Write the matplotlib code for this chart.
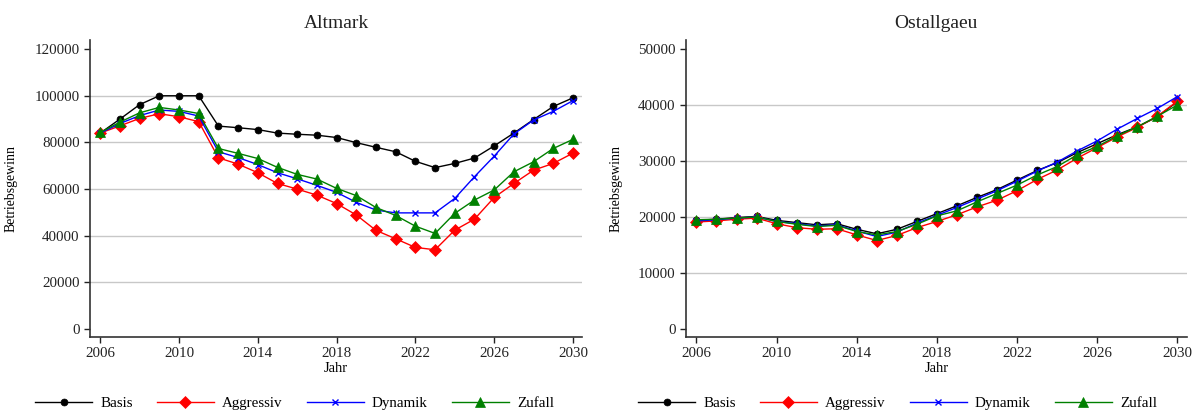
import numpy as np
import matplotlib.pyplot as plt

plt.rcParams['font.family'] = ['Liberation Serif', 'DejaVu Serif']

years = list(range(2006, 2031))

# Altmark
alt_basis = [84000, 90000, 96200, 100000, 100000, 100000, 87000, 86300, 85500, 84000, 83500,
             83100, 82100, 79900, 77900, 76000, 71900, 69200, 71000, 73300, 78500, 84000,
             89800, 95400, 99100]
alt_aggressiv = [84000, 87100, 90300, 92300, 91000, 88900, 73400, 70700, 67000, 62400, 60000,
                 57400, 53800, 48900, 42300, 38700, 35000, 34000, 42400, 47100, 56400, 62400,
                 68100, 71000, 75400]
alt_dynamik = [84000, 88100, 91500, 93900, 93300, 91300, 76000, 73500, 70500, 67000, 64400,
               61600, 58600, 54300, 51000, 49800, 49800, 49800, 56000, 65300, 74100, 83600,
               89600, 93300, 97900]
alt_zufall = [84300, 88700, 92700, 95000, 93900, 92400, 77400, 75300, 73100, 69300, 66300,
              64300, 60300, 57200, 52100, 48700, 44100, 41000, 49600, 55300, 59600, 67400,
              71700, 77400, 81300]

# Ostallgaeu
ost_basis = [19400, 19600, 19900, 20100, 19400, 19000, 18600, 18800, 17800, 17000, 17800,
             19200, 20600, 22000, 23500, 24900, 26600, 28300, 29700, 31500, 33100, 34700,
             36100, 37900, 40600]
ost_aggressiv = [19100, 19300, 19600, 19800, 18800, 18100, 17800, 17900, 16800, 15800, 16700,
                 18100, 19200, 20400, 21800, 23000, 24700, 26700, 28400, 30500, 32400, 34300,
                 36000, 38000, 40700]
ost_dynamik = [19300, 19500, 19800, 20000, 19200, 18800, 18400, 18600, 17500, 16500, 17300,
               18900, 20300, 21700, 23200, 24700, 26400, 28200, 29800, 31800, 33600, 35700,
               37600, 39400, 41500]
ost_zufall = [19500, 19600, 19800, 20000, 19200, 18700, 18300, 18500, 17400, 16800, 17400,
              18700, 20200, 21100, 22700, 24200, 25700, 27500, 29000, 31100, 32600, 34500,
              36100, 38000, 40000]

series_names = ["Basis", "Aggressiv", "Dynamik", "Zufall"]
colors = ["black", "#ff0000", "#0000ff", "#008000"]
markers = ["o", "D", "x", "^"]
msizes = [5, 6, 4, 7]

xticks = [2006, 2010, 2014, 2018, 2022, 2026, 2030]
alt_yticks = [0, 20000, 40000, 60000, 80000, 100000, 120000]
ost_yticks = [0, 10000, 20000, 30000, 40000, 50000]

fig = plt.figure(figsize=(11.95, 4.12), dpi=100)
ax1 = fig.add_axes([90 / 1195, 75 / 412, 492 / 1195, 297 / 412])
ax2 = fig.add_axes([686 / 1195, 75 / 412, 500.7 / 1195, 297 / 412])

panels = [
    (ax1, "Altmark", [alt_basis, alt_aggressiv, alt_dynamik, alt_zufall], alt_yticks, (-3400, 123900), -0.148, 35),
    (ax2, "Ostallgaeu", [ost_basis, ost_aggressiv, ost_dynamik, ost_zufall], ost_yticks, (-1430, 51600), -0.126, 638),
]

for ax, title, data, yticks, ylim, ylab_x, leg_x in panels:
    for vals, name, c, m, ms in zip(data, series_names, colors, markers, msizes):
        ax.plot(years, vals, color=c, marker=m, markersize=ms, lw=1, label=name,
                markeredgewidth=1 if m == "x" else 0.5)
    for yv in yticks[1:-1]:
        ax.axhline(yv, color="#c8c8c8", lw=1, zorder=0)
    ax.set_xlim(2005.48, 2030.46)
    ax.set_ylim(*ylim)
    ax.set_xticks(xticks)
    ax.set_yticks(yticks)
    ax.tick_params(labelsize=10.8, colors="#222222", length=4, width=1)
    for s in ["top", "right"]:
        ax.spines[s].set_visible(False)
    for s in ["left", "bottom"]:
        ax.spines[s].set_color("#333333")
        ax.spines[s].set_linewidth(1.2)
    ax.set_title(title, fontsize=14, pad=9, color="#222222")
    ax.set_ylabel("Betriebsgewinn", fontsize=10)
    ax.yaxis.set_label_coords(ylab_x, 0.5)
    ax.set_xlabel("Jahr", fontsize=10.5)
    ax.xaxis.set_label_coords(0.5, -0.084)
    ax.legend(loc="center left", bbox_to_anchor=(leg_x / 1195, 1 - 403 / 412),
              bbox_transform=fig.transFigure, ncol=4, frameon=False, fontsize=10.8,
              handlelength=3.8, handletextpad=0.55, columnspacing=1.6, borderpad=0,
              borderaxespad=0)

fig.savefig("out.png", dpi=100)
